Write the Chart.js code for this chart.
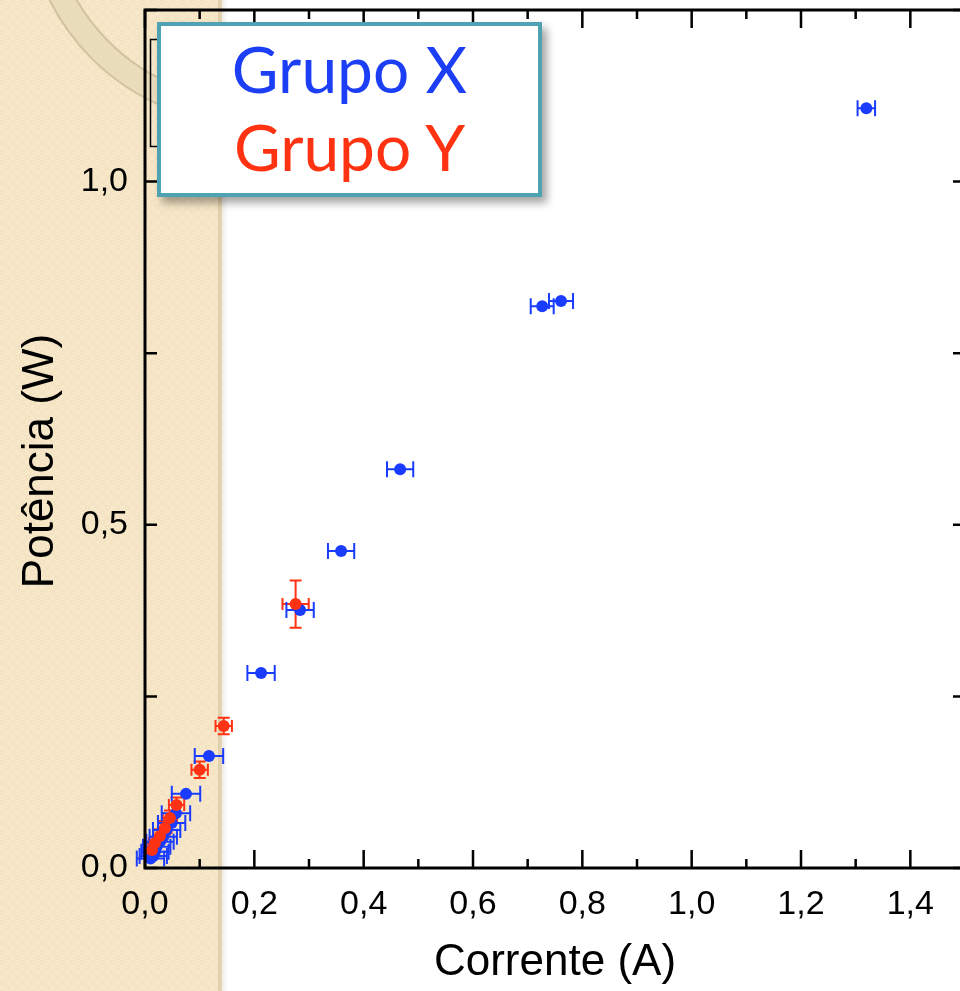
<!DOCTYPE html>
<html>
<head>
<meta charset="utf-8">
<script src="https://cdn.jsdelivr.net/npm/chart.js@4/dist/chart.umd.min.js"></script>
<style>
  html, body { margin: 0; padding: 0; background: #fff; overflow: hidden; }
  #wrap { position: relative; width: 960px; height: 991px; overflow: hidden; }
  #legendBox {
    position: absolute; left: 157px; top: 22px; width: 377px; height: 163px;
    background: #fff; border: 4px solid #4ea2b2;
    box-shadow: 5px 6px 8px rgba(0,0,0,0.35);
    font-family: Lato, "Open Sans", sans-serif; font-size: 64px; line-height: 78px;
    text-align: center; padding-top: 4px; box-sizing: content-box;
  }
  #legendBox div { height: 78px; }
</style>
</head>
<body>
<div id="wrap">
  <canvas id="powerChart" width="972" height="991"></canvas>
  <div id="legendBox">
    <div style="color:#1c3ef5">Grupo X</div>
    <div style="color:#ff3311">Grupo Y</div>
  </div>
</div>
<script>
// Grupo X (blue) - current (A), power (W), current error
const groupXCurrent = [1.3195, 0.761, 0.7266, 0.4667, 0.3587, 0.2837, 0.2123, 0.117, 0.075, 0.0566, 0.0487, 0.0396, 0.0334, 0.0274, 0.0214, 0.0182, 0.0151, 0.010];
const groupXPower   = [1.107, 0.826, 0.8185, 0.581, 0.462, 0.376, 0.284, 0.163, 0.108, 0.0797, 0.0655, 0.0553, 0.0456, 0.0383, 0.031, 0.0237, 0.0175, 0.014];
const groupXCurrentErr = [0.016, 0.022, 0.021, 0.024, 0.024, 0.025, 0.025, 0.026, 0.026, 0.026, 0.025, 0.025, 0.025, 0.025, 0.025, 0.025, 0.025, 0.025];

// Grupo Y (red) - current, power, both errors
const groupYCurrent = [0.2755, 0.144, 0.100, 0.0577, 0.0456, 0.0365, 0.0274, 0.0182, 0.0128];
const groupYPower   = [0.3845, 0.207, 0.143, 0.0918, 0.0728, 0.0583, 0.0466, 0.0364, 0.0262];
const groupYCurrentErr = [0.024, 0.015, 0.015, 0.014, 0.013, 0.012, 0.012, 0.011, 0.011];
const groupYPowerErr   = [0.0345, 0.012, 0.012, 0.011, 0.011, 0.010, 0.010, 0.009, 0.009];

const xLabelMax = 1.4;
const yLabelStep = 0.5;

const BLUE = '#1a3cff';
const RED = '#ff3314';

function toPoints(xs, ys) {
  return xs.map((x, i) => ({ x: x, y: ys[i] }));
}
function commaLabel(v) {
  return v.toFixed(1).replace('.', ',');
}

// beige side band, decorative ring and the old legend frame
const paperPlugin = {
  id: 'paper',
  beforeDraw(chart) {
    const ctx = chart.ctx;
    ctx.save();
    // pattern tile
    const tile = document.createElement('canvas');
    tile.width = 10; tile.height = 10;
    const t = tile.getContext('2d');
    t.fillStyle = '#f7e8ca'; t.fillRect(0, 0, 10, 10);
    t.fillStyle = '#f3e3c2'; t.fillRect(0, 0, 5, 5); t.fillRect(5, 5, 5, 5);
    t.fillStyle = '#faefd8'; t.fillRect(2, 2, 1, 1); t.fillRect(7, 7, 1, 1);
    ctx.fillStyle = ctx.createPattern(tile, 'repeat');
    ctx.fillRect(0, 0, 222, chart.height);
    const g = ctx.createLinearGradient(218, 0, 228, 0);
    g.addColorStop(0, 'rgba(150,130,90,0.25)');
    g.addColorStop(0.4, 'rgba(150,130,90,0.15)');
    g.addColorStop(1, 'rgba(150,130,90,0)');
    ctx.fillStyle = g;
    ctx.fillRect(218, 0, 10, chart.height);
    // ring
    ctx.beginPath();
    ctx.rect(0, 0, 222, chart.height);
    ctx.clip();
    ctx.beginPath();
    ctx.arc(250, -100, 212, 0, Math.PI * 2);
    ctx.lineWidth = 24;
    ctx.strokeStyle = 'rgba(232,218,185,0.85)';
    ctx.stroke();
    ctx.lineWidth = 2;
    ctx.strokeStyle = 'rgba(175,158,120,0.45)';
    ctx.beginPath(); ctx.arc(250, -100, 224, 0, Math.PI * 2); ctx.stroke();
    ctx.beginPath(); ctx.arc(250, -100, 200, 0, Math.PI * 2); ctx.stroke();
    ctx.restore();
    // original legend frame (mostly hidden behind the box)
    ctx.save();
    ctx.strokeStyle = '#000';
    ctx.lineWidth = 1.5;
    ctx.strokeRect(150.5, 39.5, 200, 107);
    ctx.restore();
  },
  beforeDatasetsDraw(chart) {
    const ctx = chart.ctx;
    const xs = chart.scales.x, ys = chart.scales.y;
    ctx.save();
    ctx.lineWidth = 2;
    chart.data.datasets.forEach((ds) => {
      const cap = ds.capSize;
      ctx.strokeStyle = ds.borderColor;
      ds.data.forEach((p, i) => {
        const px = xs.getPixelForValue(p.x), py = ys.getPixelForValue(p.y);
        if (ds.xErr) {
          const a = xs.getPixelForValue(p.x - ds.xErr[i]), b = xs.getPixelForValue(p.x + ds.xErr[i]);
          ctx.beginPath();
          ctx.moveTo(a, py); ctx.lineTo(b, py);
          ctx.moveTo(a, py - cap); ctx.lineTo(a, py + cap);
          ctx.moveTo(b, py - cap); ctx.lineTo(b, py + cap);
          ctx.stroke();
        }
        if (ds.yErr) {
          const a = ys.getPixelForValue(p.y - ds.yErr[i]), b = ys.getPixelForValue(p.y + ds.yErr[i]);
          ctx.beginPath();
          ctx.moveTo(px, a); ctx.lineTo(px, b);
          ctx.moveTo(px - cap, a); ctx.lineTo(px + cap, a);
          ctx.moveTo(px - cap, b); ctx.lineTo(px + cap, b);
          ctx.stroke();
        }
      });
    });
    ctx.restore();
  },
  afterDatasetsDraw(chart) {
    // frame and inward ticks
    const ctx = chart.ctx;
    const a = chart.chartArea;
    const xs = chart.scales.x, ys = chart.scales.y;
    ctx.save();
    ctx.strokeStyle = '#000';
    ctx.lineWidth = 3;
    ctx.strokeRect(a.left, a.top, a.right - a.left, a.bottom - a.top);
    ctx.lineWidth = 2.5;
    ctx.beginPath();
    xs.ticks.forEach((t) => {
      const px = xs.getPixelForValue(t.value);
      const major = Math.round(t.value * 10) % 2 === 0;
      const len = major ? 18 : 9;
      ctx.moveTo(px, a.bottom); ctx.lineTo(px, a.bottom - len);
      ctx.moveTo(px, a.top); ctx.lineTo(px, a.top + len);
    });
    ys.ticks.forEach((t) => {
      const py = ys.getPixelForValue(t.value);
      ctx.moveTo(a.left, py); ctx.lineTo(a.left + 12, py);
      ctx.moveTo(a.right, py); ctx.lineTo(a.right - 12, py);
    });
    ctx.stroke();
    ctx.restore();
  }
};

Chart.defaults.font.family = "'Liberation Sans', Arial, sans-serif";
Chart.defaults.color = '#000';

new Chart(document.getElementById('powerChart').getContext('2d'), {
  type: 'scatter',
  data: {
    datasets: [{
      label: 'Grupo Y',
      data: toPoints(groupYCurrent, groupYPower),
      xErr: groupYCurrentErr,
      yErr: groupYPowerErr,
      capSize: 6,
      backgroundColor: RED,
      borderColor: RED,
      pointRadius: 6,
      pointBorderWidth: 0
    }, {
      label: 'Grupo X',
      data: toPoints(groupXCurrent, groupXPower),
      xErr: groupXCurrentErr,
      capSize: 8,
      backgroundColor: BLUE,
      borderColor: BLUE,
      pointRadius: 6,
      pointBorderWidth: 0
    }]
  },
  options: {
    responsive: false,
    animation: false,
    layout: { padding: { top: 10, right: 7, left: 0, bottom: 0 } },
    plugins: { legend: { display: false }, tooltip: { enabled: false } },
    scales: {
      x: {
        type: 'linear', min: 0, max: 1.5,
        grid: { display: false, drawTicks: false },
        border: { display: false },
        ticks: {
          stepSize: 0.1, padding: 16, maxRotation: 0, autoSkip: false,
          font: { size: 34 },
          callback: (v) => (Math.round(v * 10) % 2 === 0 && v <= xLabelMax + 1e-6) ? commaLabel(v) : ''
        },
        title: { display: true, text: 'Corrente (A)', font: { size: 44 }, padding: { top: 0, bottom: 2 } },
        afterFit: (s) => { s.height = 123; s.paddingLeft = 0; s.paddingRight = 0; }
      },
      y: {
        type: 'linear', min: 0, max: 1.25,
        grid: { display: false, drawTicks: false },
        border: { display: false },
        ticks: {
          stepSize: 0.25, padding: 17, autoSkip: false,
          font: { size: 34 },
          callback: (v) => (Math.abs(v / yLabelStep - Math.round(v / yLabelStep)) < 1e-6 && v < 1.2) ? commaLabel(v) : ''
        },
        // trailing em space nudges the visible title down to where the original sits
        title: { display: true, text: 'Potência (W)\u2003', font: { size: 44 }, padding: { top: 14, bottom: 0 } },
        afterFit: (s) => { s.width = 145; s.paddingTop = 0; s.paddingBottom = 0; }
      }
    }
  },
  plugins: [paperPlugin]
});
</script>
</body>
</html>
